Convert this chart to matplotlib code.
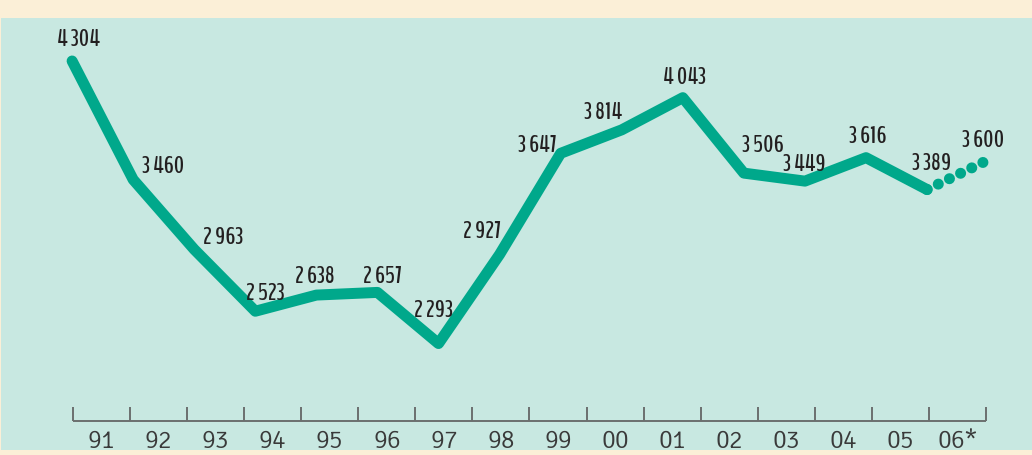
import matplotlib
matplotlib.use("Agg")
import matplotlib.pyplot as plt
from matplotlib.patches import Rectangle

years = ["91", "92", "93", "94", "95", "96", "97", "98", "99", "00",
         "01", "02", "03", "04", "05", "06*"]
values = [4304, 3460, 2963, 2523, 2638, 2657, 2293, 2927, 3647, 3814,
          4043, 3506, 3449, 3616, 3389, 3600]
labels = ["4 304", "3 460", "2 963", "2 523", "2 638", "2 657", "2 293", "2 927",
          "3 647", "3 814", "4 043", "3 506", "3 449", "3 616", "3 389", "3 600"]
# label offsets in pixels (dx right, dy up) relative to each point
offsets = [(6, 21), (30, 13), (29, 12), (10, 18), (-2, 19), (5, 16), (-5, 33), (-18, 23),
           (-23, 8), (-19, 17), (2, 20), (19, 28), (-1, 17), (2, 21), (5, 26), (-5, 19)]

W, H = 1032, 455
DPI = 100
fig = plt.figure(figsize=(W / DPI, H / DPI), dpi=DPI)
fig.patch.set_facecolor("#fbefd7")

ax = fig.add_axes([0, 0, 1, 1])
ax.set_facecolor("none")
ax.axis("off")

# teal panel
ax.add_patch(Rectangle((1 / W, 1 - 450 / H), (W - 1) / W, (450 - 18) / H,
                       transform=fig.transFigure, facecolor="#c8e8e1",
                       edgecolor="none", zorder=0))

# data scale: point i at px 72.1 + 61.07*i ; value -> px 61 + (4304-v)*0.1405
x0, dx = 72.1, 61.07
py0, k = 61, 0.1405
ax.set_xlim(-x0 / dx, (W - x0) / dx)
ax.set_ylim(4304 - (H - py0) / k, 4304 + py0 / k)

line_color = "#00a88b"
lw = 7.9
xs = list(range(len(values)))
ax.plot(xs[:-1], values[:-1], color=line_color, lw=lw,
        solid_capstyle="round", solid_joinstyle="round", zorder=3)
ax.plot(xs[-2:], values[-2:], color=line_color, lw=lw,
        linestyle=(0, (0.01, 1.12)), dash_capstyle="round", zorder=3)

lab_font = ["BenchNine", "Barlow Condensed", "DejaVu Sans"]
for x, v, t, (ox, oy) in zip(xs, values, labels, offsets):
    ax.annotate(t, (x, v), xytext=(ox * 0.72, oy * 0.72), textcoords="offset points",
                ha="center", va="center", fontsize=17.5, fontweight="bold",
                family=lab_font, color="#231f20", zorder=4)

# time axis: separate scale, ticks at px 73 + 57.06*j
axt = fig.add_axes([0, 0, 1, 1])
axt.set_facecolor("none")
axt.axis("off")
t0, tdx = 73, 57.06
axt.set_xlim(-t0 / tdx, (W - t0) / tdx)
axt.set_ylim(H, 0)  # pixel rows for vertical placement
n = len(years)
axis_y, tick_top, lab_y = 421, 407, 441
axt.plot([0, n], [axis_y, axis_y], color="#6b6f6e", lw=1.4, solid_capstyle="butt")
axt.vlines(range(n + 1), tick_top, axis_y, color="#6b6f6e", lw=1.4)
for i, y in enumerate(years):
    axt.text(i + 0.5, lab_y, y, ha="center", va="center", fontsize=18.5,
             family=["Signika", "Open Sans", "DejaVu Sans"], color="#3a3a3a")

fig.savefig("out.png", dpi=DPI, facecolor=fig.get_facecolor())
